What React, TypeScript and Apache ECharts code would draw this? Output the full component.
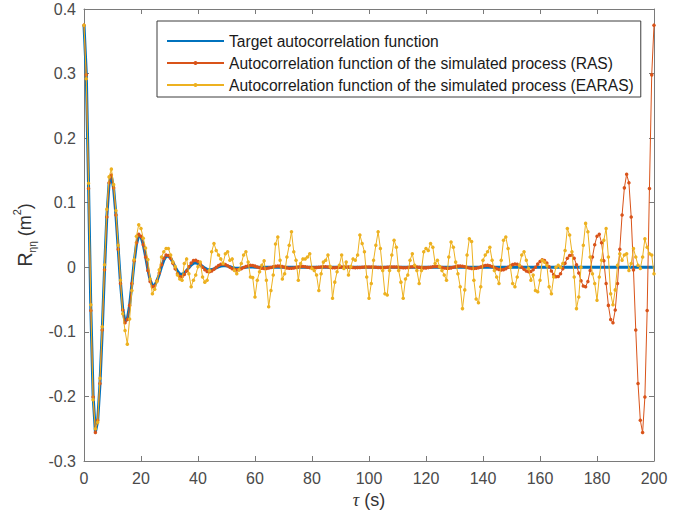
import { useEffect, useRef } from "react";
import * as echarts from "echarts";

// Lag step of the sampled autocorrelation functions (s)
const LAG_STEP = 0.8;

const SERIES_NAMES = [
  "Target autocorrelation function",
  "Autocorrelation function of the simulated process (RAS)",
  "Autocorrelation function of the simulated process (EARAS)",
];

// Target autocorrelation function R(τ), τ = 0 … 200 s
const targetAcf = [
  0.375, 0.300, 0.125, -0.065, -0.200, -0.255, -0.238, -0.181, -0.098, -0.004,
  0.078, 0.130, 0.141, 0.122, 0.081, 0.029, -0.024, -0.065, -0.084, -0.080,
  -0.059, -0.026, 0.008, 0.036, 0.049, 0.047, 0.035, 0.017, -0.003, -0.020,
  -0.028, -0.028, -0.021, -0.011, 0.001, 0.011, 0.017, 0.0175, 0.0139, 0.0076,
  0.0003, -0.0062, -0.0103, -0.0108, -0.0089, -0.0051, -0.0006, 0.0036, 0.0063, 0.0070,
  0.0059, 0.0038, 0.0012, -0.0014, -0.0033, -0.0040, -0.0036, -0.0025, -0.0010, 0.0006,
  0.0019, 0.0025, 0.0024, 0.0018, 0.0009, -0.0001, -0.0010, -0.0014, -0.0013, -0.0009,
  -0.0004, 0.0002, 0.0006, 0.0007, 0.0005, 0.0002,
  0, 0, 0, 0, 0, 0, 0, 0, 0, 0, 0, 0, 0, 0, 0, 0, 0, 0, 0, 0, 0, 0, 0, 0, 0,
  0, 0, 0, 0, 0, 0, 0, 0, 0, 0, 0, 0, 0, 0, 0, 0, 0, 0, 0, 0, 0, 0, 0, 0, 0,
  0, 0, 0, 0, 0, 0, 0, 0, 0, 0, 0, 0, 0, 0, 0, 0, 0, 0, 0, 0, 0, 0, 0, 0, 0,
  0, 0, 0, 0, 0, 0, 0, 0, 0, 0, 0, 0, 0, 0, 0, 0, 0, 0, 0, 0, 0, 0, 0, 0, 0,
  0, 0, 0, 0, 0, 0, 0, 0, 0, 0, 0, 0, 0, 0, 0, 0, 0, 0, 0, 0, 0, 0, 0, 0, 0,
  0, 0, 0, 0, 0, 0, 0, 0, 0, 0, 0, 0, 0, 0, 0, 0, 0, 0, 0, 0, 0, 0, 0, 0, 0,
  0, 0, 0, 0, 0, 0, 0, 0, 0, 0, 0, 0, 0, 0, 0, 0, 0, 0, 0, 0, 0, 0, 0, 0, 0,
];

// Autocorrelation of the process simulated with RAS
const rasAcf = [
  0.375, 0.298, 0.122, -0.067, -0.201, -0.256, -0.237, -0.180, -0.097, -0.004,
  0.078, 0.131, 0.143, 0.123, 0.081, 0.028, -0.025, -0.066, -0.086, -0.081,
  -0.059, -0.025, 0.010, 0.038, 0.051, 0.048, 0.035, 0.016, -0.005, -0.022,
  -0.030, -0.029, -0.021, -0.009, 0.004, 0.014, 0.019, 0.0184, 0.014, 0.0064,
  -0.0024, -0.010, -0.0144, -0.0146, -0.0113, -0.0057, 0.0009, 0.0067, 0.0103, 0.0108,
  0.0088, 0.0049, 0.0002, -0.0039, -0.0065, -0.0069, -0.0056, -0.0031, 0.0000, 0.0027,
  0.0046, 0.0050, 0.0041, 0.0023, 0.0001, -0.0021, -0.0036, -0.0040, -0.0034, -0.0021,
  -0.0004, 0.0013, 0.0025, 0.0030, 0.0027, 0.0018, 0.0006, -0.0007, -0.0016, -0.0020,
  -0.0018, -0.0011, -0.0002, 0.0008, 0.0016, 0.0020, 0.0018, 0.0010, 0.0000, -0.0009,
  -0.0014, -0.0015, -0.0010, -0.0002, 0.0006, 0.0011, 0.0012, 0.0008, 0.0001, -0.0005,
  -0.0009, -0.0009, -0.0005, 0.0001, 0.0006, 0.0008, 0.0007, 0.0003, -0.0002, -0.0006,
  -0.0007, -0.0005, -0.0001, 0.0003, 0.0006, 0.0006, 0.0004, 0.0000, -0.0004, -0.0006,
  -0.0005, -0.0002, 0.0002, 0.0005, 0.0006, 0.0005,
  0.0006, 0.0005, 0.0002, -0.0002, -0.0005, -0.0006, -0.0004, 0.0000, 0.0004, 0.0006,
  0.0006, 0.0003, -0.0001, -0.0005, -0.0007, -0.0006, -0.0002, 0.0003, 0.0007, 0.0008,
  0.0006, 0.0001, -0.0005, -0.0009, -0.0009, -0.0005, 0.0001, 0.0008, 0.0012, 0.0011,
  0.0006, -0.0002, -0.0010, -0.0015, -0.0014, -0.0009, 0.0000, 0.0010, 0.0018, 0.0020,
  0.0016, 0.0008, -0.0002, -0.0011, -0.0018, -0.0020, -0.0016, -0.0007, 0.0006, 0.0018,
  0.0027, 0.0030, 0.0025, 0.0013, -0.0004, -0.0021, -0.0034, -0.0040, -0.0036, -0.0021,
  0.0001, 0.0023, 0.0041, 0.0050, 0.0046, 0.0027, 0.0000, -0.0031, -0.0056, -0.0069,
  -0.0065, -0.0039, 0.0002, 0.0049, 0.0088, 0.0115, 0.0103, 0.0067, 0.0009, -0.0057,
  -0.0113, -0.0146, -0.0144, -0.0100, -0.0024, 0.0064, 0.0140, 0.0184, 0.019, 0.014,
  0.004, -0.009, -0.021, -0.029, -0.030, -0.022, -0.005, 0.016, 0.035, 0.048,
  0.051, 0.038, 0.010, -0.025, -0.059, -0.081, -0.086, -0.066, -0.025, 0.028,
  0.081, 0.123, 0.144, 0.131, 0.078, -0.004, -0.097, -0.180, -0.237, -0.256,
  -0.201, -0.067, 0.122, 0.298, 0.375,
];

// Autocorrelation of the process simulated with EARAS
const earasAcf = [
  0.375, 0.292, 0.130, -0.058, -0.205, -0.250, -0.240, -0.172, -0.092, 0.004,
  0.090, 0.140, 0.152, 0.128, 0.088, 0.034, -0.020, -0.072, -0.098, -0.119,
  -0.080, -0.036, 0.012, 0.048, 0.066, 0.060, 0.045, 0.030, 0.012, -0.018,
  -0.041, -0.034, -0.022, -0.004, 0.016, 0.024,
  0.029, 0.029, 0.019, 0.008, 0.001, -0.012, -0.018, -0.020, 0.006, 0.013,
  -0.010, -0.030, -0.020, -0.012, 0.001, 0.008, -0.015, -0.023, -0.020, -0.005,
  0.024, 0.037, 0.026, 0.019, 0.013, 0.006, 0.021, 0.024, 0.011, 0.013,
  -0.005, -0.010, -0.004, 0.006, 0.019, 0.024, 0.008, -0.015,
  -0.016, -0.046, -0.020, -0.007, 0.003, 0.010, -0.020, -0.061, -0.036, -0.012,
  0.036, 0.047,
  0.011, -0.018, -0.010, 0.016, 0.034, 0.055, 0.024, 0.011, -0.020, 0.006,
  0.013, 0.013, 0.016, 0.021, -0.002, -0.005, -0.012, -0.036, -0.010, 0.008,
  0.011, 0.019, 0.001, -0.048, -0.023, -0.007, 0.003, 0.019, -0.002, 0.008,
  -0.012, 0.001, 0.013, 0.011, 0.019, 0.050, 0.037, 0.024, -0.015, -0.048,
  -0.025, 0.011, 0.034, 0.055, 0.029, -0.005, -0.041, -0.043, -0.005, 0.019,
  0.042, 0.031, -0.005, -0.023, -0.048, -0.018, -0.012, 0.011, 0.021, 0.003,
  -0.005, -0.025, -0.005, 0.024, 0.029, 0.026, 0.037, 0.031, 0.006, 0.011,
  0.001, -0.005, -0.012, -0.020, 0.016, 0.039, 0.031, 0.008, -0.010,
  -0.030, -0.064, -0.035, 0.019, 0.044, 0.040, -0.020, -0.049, -0.055, -0.030,
  0.011, 0.019, 0.024, 0.031, 0.011, -0.005, -0.015, -0.025, 0.011, 0.042,
  0.047, 0.029, 0.000, -0.025, -0.030, -0.015, 0.003, 0.019, 0.024, 0.011,
  -0.002, -0.020, -0.012, -0.036, -0.038,
  -0.020, 0.011, 0.008, 0.003, -0.030, -0.041, -0.015, 0.000, 0.003, 0.000,
  0.006, 0.026, 0.060, 0.050, 0.024, -0.015, -0.064, -0.046, 0.000, 0.034,
  0.068, 0.055, 0.016, -0.010, -0.025, -0.051, -0.015, 0.011, 0.042, 0.060,
  0.016, -0.041, -0.058, -0.035, 0.003, 0.021, 0.011, 0.019, 0.021, -0.005,
  0.006, 0.029, 0.016, 0.003, -0.002, 0.016, 0.044, 0.031, 0.021, 0.019,
  -0.010,
];

const FONT = "'Liberation Sans', Arial, Helvetica, sans-serif";
const AXIS_GREY = "#7a7a7a";

const toPoints = (values: number[]) => values.map((v, i) => [i * LAG_STEP, v]);

const tickLabel = (v: number) => {
  const r = Math.round(v * 10) / 10;
  return r === 0 ? "0" : String(r);
};

const boxAxis = {
  axisLine: { onZero: false, lineStyle: { color: AXIS_GREY, width: 1 } },
  axisTick: { inside: true, length: 5, lineStyle: { color: AXIS_GREY } },
  splitLine: { show: false },
};

export default function App() {
  const ref = useRef<HTMLDivElement>(null);

  useEffect(() => {
    const chart = echarts.init(ref.current!, null, { renderer: "svg" });
    chart.setOption({
      animation: false,
      backgroundColor: "#ffffff",
      textStyle: { fontFamily: FONT },
      grid: { left: 84, right: 41, top: 9, bottom: 59, containLabel: false },
      legend: {
        orient: "vertical",
        left: 157,
        top: 21,
        padding: [12, 7, 4, 9],
        itemGap: 6,
        itemWidth: 57,
        itemHeight: 5,
        backgroundColor: "#ffffff",
        borderColor: "#3c3c3c",
        borderWidth: 1,
        textStyle: { fontSize: 15.6, color: "#1a1a1a", fontFamily: FONT },
        data: [
          // the target curve is a plain line, so its key carries no marker
          { name: SERIES_NAMES[0], itemStyle: { opacity: 0 } },
          SERIES_NAMES[1],
          SERIES_NAMES[2],
        ],
      },
      xAxis: [
        {
          type: "value",
          min: 0,
          max: 200,
          interval: 20,
          position: "bottom",
          ...boxAxis,
          axisLabel: { color: "#4a4a4a", fontSize: 16, margin: 9, fontFamily: FONT },
          name: "{t|τ} (s)",
          nameLocation: "middle",
          nameGap: 27,
          nameTextStyle: {
            fontSize: 18,
            color: "#333333",
            fontFamily: FONT,
            rich: {
              t: { fontSize: 18, fontStyle: "italic", fontFamily: "'Liberation Serif', serif", color: "#333333" },
            },
          },
        },
        {
          type: "value",
          min: 0,
          max: 200,
          interval: 20,
          position: "top",
          ...boxAxis,
          axisLabel: { show: false },
        },
      ],
      yAxis: [
        {
          type: "value",
          min: -0.3,
          max: 0.4,
          interval: 0.1,
          position: "left",
          ...boxAxis,
          axisLabel: { color: "#4a4a4a", fontSize: 16, margin: 8, fontFamily: FONT, formatter: tickLabel },
          name: "{r|R}{s|ηη}{p| (m}{u|2}{p|)}",
          nameLocation: "middle",
          nameRotate: 90,
          nameGap: 40,
          nameTextStyle: {
            color: "#333333",
            fontFamily: FONT,
            rich: {
              r: { fontSize: 20, color: "#333333", lineHeight: 26, verticalAlign: "middle" },
              s: { fontSize: 10, color: "#333333", lineHeight: 26, verticalAlign: "bottom" },
              p: { fontSize: 18, color: "#333333", lineHeight: 26, verticalAlign: "middle" },
              u: { fontSize: 11, color: "#333333", lineHeight: 26, verticalAlign: "top" },
            },
          },
        },
        {
          type: "value",
          min: -0.3,
          max: 0.4,
          interval: 0.1,
          position: "right",
          ...boxAxis,
          axisLabel: { show: false },
        },
      ],
      series: [
        {
          name: SERIES_NAMES[0],
          type: "line",
          data: toPoints(targetAcf),
          symbol: "none",
          lineStyle: { color: "#0072BD", width: 3 },
          itemStyle: { color: "#0072BD" },
          z: 2,
        },
        {
          name: SERIES_NAMES[1],
          type: "line",
          data: toPoints(rasAcf),
          symbol: "circle",
          symbolSize: 3.5,
          lineStyle: { color: "#D95319", width: 1 },
          itemStyle: { color: "#D95319" },
          z: 3,
        },
        {
          name: SERIES_NAMES[2],
          type: "line",
          data: toPoints(earasAcf),
          symbol: "circle",
          symbolSize: 3.5,
          lineStyle: { color: "#EDB120", width: 1 },
          itemStyle: { color: "#EDB120" },
          z: 4,
        },
      ],
    });
    return () => chart.dispose();
  }, []);

  return (
    <div
      ref={ref}
      style={{ position: "absolute", left: 0, top: 0, width: 695, height: 520 }}
    />
  );
}
